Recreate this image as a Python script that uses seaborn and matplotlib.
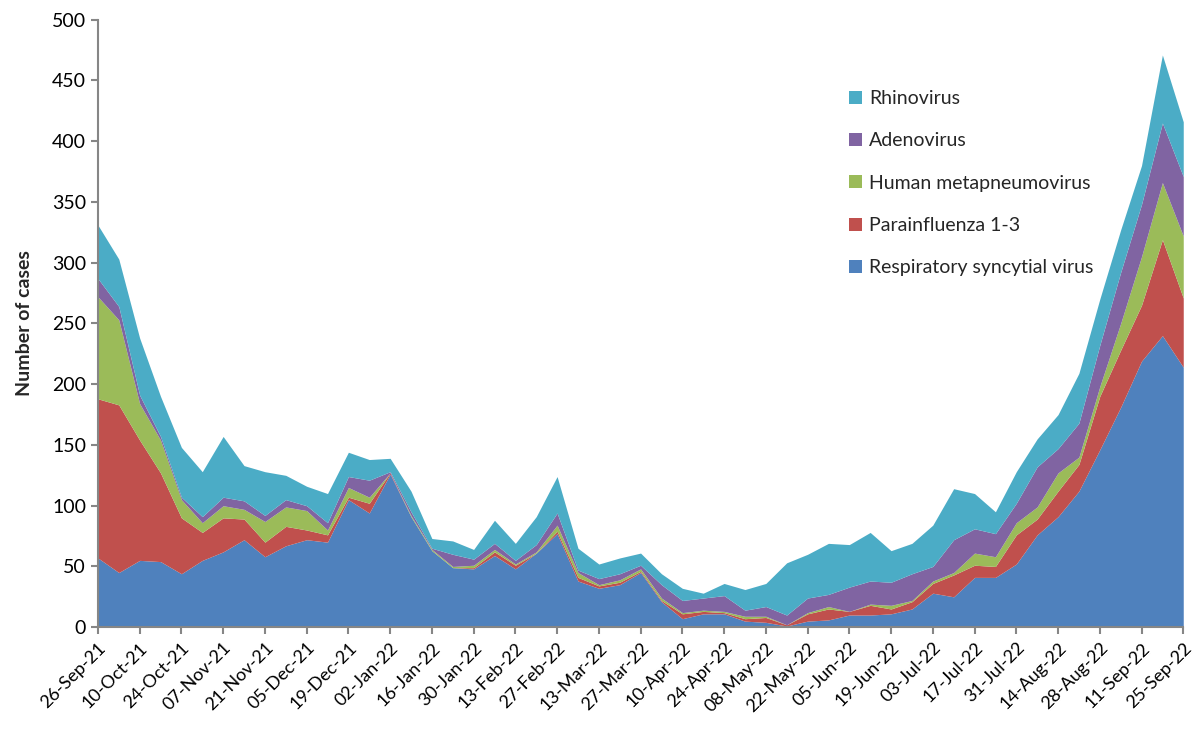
import numpy as np
import matplotlib
matplotlib.use('Agg')
import matplotlib.pyplot as plt
import seaborn as sns

# weekly case counts, 26-Sep-21 .. 25-Sep-22 (53 weeks)
rsv = [57, 45, 55, 54, 44, 55, 62, 72, 58, 67, 72, 70, 105, 94, 126, 91, 63, 49, 48, 59,
       48, 61, 77, 38, 32, 35, 45, 21, 7, 11, 11, 5, 4, 1, 5, 6, 10, 10, 11, 15,
       28, 25, 41, 41, 52, 76, 91, 112, 146, 181, 219, 240, 214]
para = [131, 138, 99, 73, 46, 23, 28, 17, 12, 16, 8, 6, 2, 8, 1, 0, 0, 0, 1, 3,
        3, 0, 2, 3, 2, 2, 1, 1, 4, 2, 1, 2, 4, 1, 6, 9, 3, 8, 4, 6,
        8, 18, 10, 9, 24, 13, 21, 22, 44, 47, 46, 79, 57]
hmpv = [84, 70, 30, 27, 15, 8, 10, 8, 17, 16, 16, 4, 8, 5, 0, 1, 1, 1, 2, 2,
        1, 1, 5, 4, 1, 2, 2, 2, 1, 1, 1, 2, 1, 0, 1, 2, 0, 1, 3, 1,
        2, 2, 10, 8, 10, 10, 15, 6, 8, 22, 40, 47, 51]
adeno = [15, 11, 7, 3, 2, 5, 7, 7, 5, 6, 4, 6, 9, 14, 1, 3, 1, 10, 5, 5,
         3, 6, 10, 2, 5, 5, 3, 11, 10, 10, 13, 5, 8, 8, 12, 10, 20, 19, 19, 22,
         12, 27, 20, 19, 16, 33, 20, 28, 34, 42, 43, 49, 49]
rhino = [44, 39, 47, 33, 41, 37, 50, 29, 36, 20, 16, 24, 20, 17, 11, 17, 8, 11, 8, 19,
         14, 23, 30, 18, 12, 13, 10, 9, 10, 4, 10, 17, 19, 43, 36, 42, 35, 40, 26, 25,
         34, 42, 29, 18, 26, 23, 28, 41, 38, 35, 32, 56, 45]

series_names = ['Respiratory syncytial virus', 'Parainfluenza 1-3', 'Human metapneumovirus',
                'Adenovirus', 'Rhinovirus']
colors = ['#4F81BD', '#C0504D', '#9BBB59', '#8064A2', '#4BACC6']

tick_labels = ['26-Sep-21', '10-Oct-21', '24-Oct-21', '07-Nov-21', '21-Nov-21', '05-Dec-21',
               '19-Dec-21', '02-Jan-22', '16-Jan-22', '30-Jan-22', '13-Feb-22', '27-Feb-22',
               '13-Mar-22', '27-Mar-22', '10-Apr-22', '24-Apr-22', '08-May-22', '22-May-22',
               '05-Jun-22', '19-Jun-22', '03-Jul-22', '17-Jul-22', '31-Jul-22', '14-Aug-22',
               '28-Aug-22', '11-Sep-22', '25-Sep-22']

sns.set_style('white')
plt.rcParams['font.family'] = ['Lato', 'DejaVu Sans']

fig = plt.figure(figsize=(11.94, 7.31), dpi=100)
ax = fig.add_axes([0.082, 0.142, 0.909, 0.831])

weeks = np.arange(len(rsv))
ax.stackplot(weeks, rsv, para, hmpv, adeno, rhino, colors=colors, labels=series_names, linewidth=0)

ax.set_xlim(0, len(rsv) - 1)
ax.set_ylim(0, 500)
ax.set_yticks(np.arange(0, 501, 50))
ax.set_xticks(weeks[::2])
ax.set_xticklabels(tick_labels, rotation=45, ha='right', rotation_mode='anchor')
ax.tick_params(axis='both', labelsize=13, colors='#868686', labelcolor='black',
               length=5, width=1.5, direction='out', bottom=True, left=True)
ax.tick_params(axis='y', labelsize=14)
ax.tick_params(axis='x', pad=4)
ax.set_ylabel('Number of cases', fontsize=14, fontweight='bold', labelpad=14)

sns.despine(ax=ax)
for side in ['left', 'bottom']:
    ax.spines[side].set_color('#868686')
    ax.spines[side].set_linewidth(1.5)

h, l = ax.get_legend_handles_labels()
ax.legend(h[::-1], l[::-1], loc='upper left', bbox_to_anchor=(0.683, 0.9), frameon=False,
          fontsize=14, handlelength=0.65, handleheight=0.65, handletextpad=0.4,
          labelspacing=1.3, borderpad=0)

fig.savefig('out.png', dpi=100)
